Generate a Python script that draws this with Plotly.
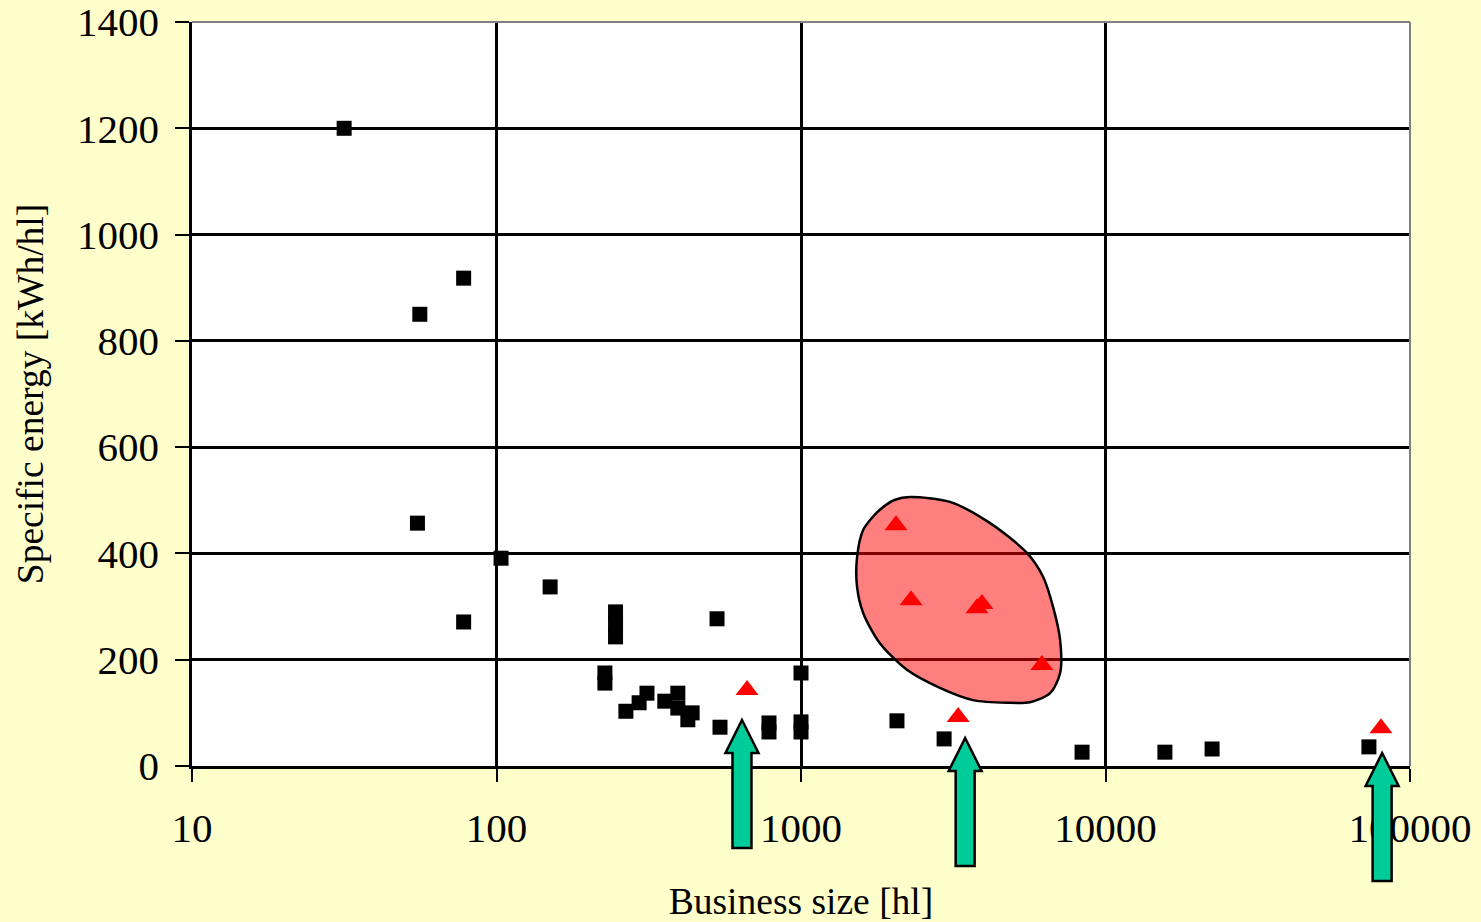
import math
import plotly.graph_objects as go

# Black squares: business size [hl] vs specific energy [kWh/hl]
sq_size = [31.6, 56, 78, 55, 78, 103.5, 150, 246, 246, 246, 530, 227, 227, 312, 294,
           266, 357, 394, 394, 439, 425, 542, 785, 785, 1000, 1000, 1000, 2066, 2951,
           8376, 15670, 22390, 73300]
sq_energy = [1200, 850, 918, 457, 271, 391, 337, 290, 267, 243, 277, 175, 156, 137, 119,
             103, 122, 137, 109, 100, 87, 73, 81, 64, 175, 83, 64, 85, 51,
             26, 26, 32, 36]

# Red triangles
tri_size = [2051, 2298, 3785, 3928, 6180, 3282, 665, 80300]
tri_energy = [453, 312, 297, 305, 190, 92, 143, 71]

# Highlight blob outline (data units)
blob_x = [2280, 3083, 4178, 5521, 6237, 6730, 7096, 7096, 6577, 5649, 4753, 3673,
          2858, 2228, 1816, 1600, 1528, 1528, 1600, 1722, 1858, 2037, 2280]
blob_y = [506, 497, 457, 401, 356, 299, 237, 175, 137, 120, 119, 124,
          147, 181, 231, 288, 337, 393, 444, 469, 487, 501, 506]

# Arrows: x position (data), tip in pixels from figure top
arrow_x = [640, 3460, 81000]
arrow_tip_px = [720, 738, 753]
arrow_len_px = 128

x_tickvals = [10, 100, 1000, 10000, 100000]
x_ticktext = ["10", "100", "1000", "10000", "100000"]
y_tickvals = [0, 200, 400, 600, 800, 1000, 1200, 1400]

W, H = 1481, 922
L, R, T, B = 192, 71, 22, 156
PW, PH = W - L - R, H - T - B
FONT = "Liberation Serif, Times New Roman, serif"

fig = go.Figure()
fig.add_trace(go.Scatter(x=blob_x, y=blob_y, mode="lines", fill="toself",
                         line=dict(color="black", width=2.5, shape="spline", smoothing=0.8),
                         fillcolor="rgba(255,0,0,0.5)", hoverinfo="skip"))
fig.add_trace(go.Scatter(x=sq_size, y=sq_energy, mode="markers",
                         marker=dict(symbol="square", size=15, color="black")))
fig.add_trace(go.Scatter(x=tri_size, y=tri_energy, mode="markers",
                         marker=dict(symbol="triangle-up", size=20, color="red")))

def py(p):
    return (T + PH - p) / PH

shapes = []
for xv, tip in zip(arrow_x, arrow_tip_px):
    cx = (math.log10(xv) - 1) / 4
    hw_head = 16.5 / PW
    hw_shaft = 9.5 / PW
    bottom = tip + arrow_len_px
    head_base = tip + 33
    path = (f"M {cx:.5f} {py(tip):.5f} "
            f"L {cx + hw_head:.5f} {py(head_base):.5f} "
            f"L {cx + hw_shaft:.5f} {py(head_base):.5f} "
            f"L {cx + hw_shaft:.5f} {py(bottom):.5f} "
            f"L {cx - hw_shaft:.5f} {py(bottom):.5f} "
            f"L {cx - hw_shaft:.5f} {py(head_base):.5f} "
            f"L {cx - hw_head:.5f} {py(head_base):.5f} Z")
    shapes.append(dict(type="path", xref="paper", yref="paper", path=path,
                       fillcolor="#00CC99", line=dict(color="black", width=2.5),
                       layer="above"))

# gray frame on top and right
shapes.append(dict(type="line", xref="paper", yref="paper", x0=1, x1=1, y0=0, y1=1,
                   line=dict(color="gray", width=2)))
shapes.append(dict(type="line", xref="paper", yref="paper", x0=0, x1=1, y0=1, y1=1,
                   line=dict(color="gray", width=2)))

fig.update_layout(
    width=W, height=H,
    margin=dict(l=L, r=R, t=T, b=B, pad=0, autoexpand=False),
    paper_bgcolor="#FFFFCC", plot_bgcolor="white",
    showlegend=False,
    font=dict(family=FONT, size=41, color="black"),
    shapes=shapes,
)
fig.update_xaxes(type="log", range=[1, 5], tickvals=x_tickvals, ticktext=x_ticktext,
                 showgrid=True, gridcolor="black", gridwidth=2.5,
                 showline=True, linecolor="black", linewidth=2.5, mirror=False,
                 ticks="outside", ticklen=13, tickwidth=2, tickcolor="black",
                 ticklabelstandoff=11, automargin=False, ticklabeloverflow="allow",
                 title=dict(text="Business size [hl]", standoff=46, font=dict(size=37.5)),
                 zeroline=False)
fig.update_yaxes(range=[0, 1400], tickvals=y_tickvals,
                 showgrid=True, gridcolor="black", gridwidth=2.5,
                 showline=True, linecolor="black", linewidth=2.5,
                 ticks="outside", ticklen=14, tickwidth=2, tickcolor="black",
                 ticklabelstandoff=8, automargin=False, ticklabeloverflow="allow",
                 title=dict(text="Specific energy [kWh/hl]", standoff=22, font=dict(size=37.5)),
                 zeroline=False)

fig.write_html("out.html", config={"displayModeBar": False},
               post_script="document.body.style.margin='0';")
